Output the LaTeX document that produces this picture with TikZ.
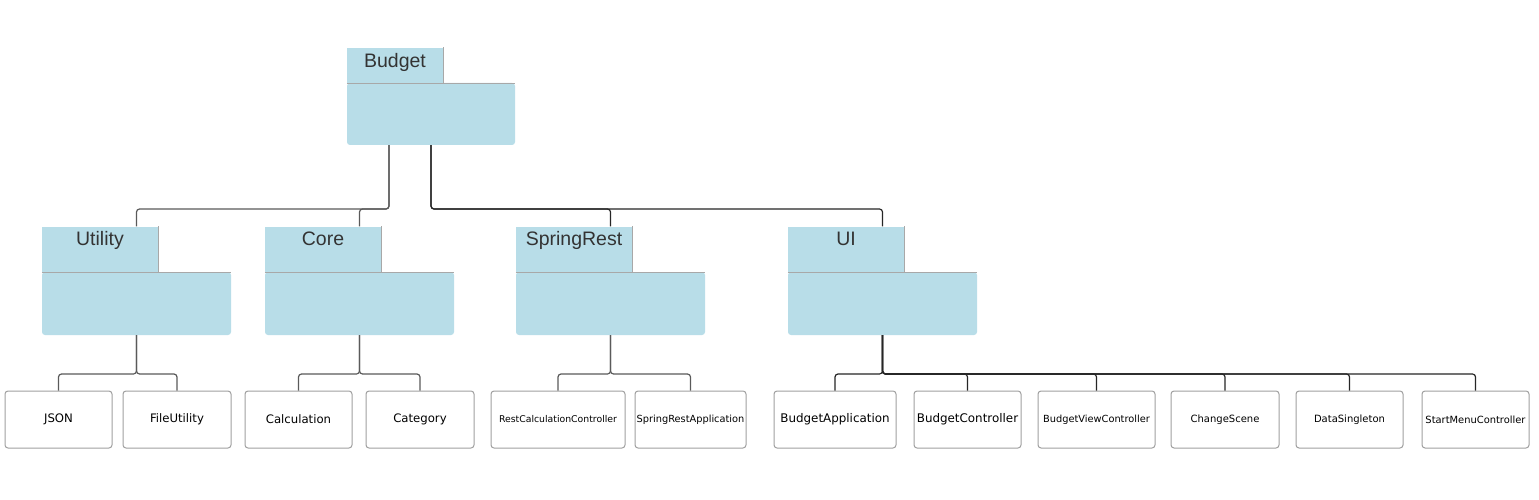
\documentclass[tikz,border=0pt]{standalone}
\usepackage{fontspec}
\setmainfont{DejaVu Sans}
\newfontfamily\pkgfont{Liberation Sans}
\usetikzlibrary{positioning}
\definecolor{pkgblue}{HTML}{B8DDE8}
\definecolor{pkgedge}{HTML}{A8A8A8}
\definecolor{leafedge}{HTML}{A0A0A0}
\definecolor{wire}{HTML}{5A5A5A}
\tikzset{
	pkgbody/.style={fill=pkgblue, rounded corners=3pt, minimum width=189pt, minimum height=63pt, inner sep=0pt},
	pkgtab/.style={fill=pkgblue, minimum width=116pt, minimum height=45pt, inner sep=0pt, anchor=south west},
	pkglabel/.style={font=\pkgfont\fontsize{19.5}{19.5}\selectfont, text=black!80, inner sep=0pt, anchor=base},
	leaf/.style={draw=leafedge, line width=1pt, rounded corners=3pt, minimum height=57pt, inner sep=0pt},
	link/.style={draw=wire, line width=1.2pt, rounded corners=3pt},
}
\begin{document}
\begin{tikzpicture}[x=1pt, y=-1pt]
			\useasboundingbox[fill=white] (0,0) rectangle (1539,500);
			\coordinate (topbus) at (0,209);
			\coordinate (leafbus) at (0,374);
			% root package
			\node[pkgbody, minimum width=168pt, minimum height=62pt] (budget) at (431,114) {};
			\node[pkgtab, minimum width=96pt, minimum height=35pt] (budgettab) at (budget.north west) {};
			\draw[pkgedge] (budgettab.north east) -- (budgettab.south east);
			\draw[pkgedge] (budget.north west) -- (budget.north east);
			\node[pkglabel] (budgetlabel) at ([yshift=-20pt]budgettab.north) {Budget};
			% sub packages
			\foreach \n/\t/\x in {utility/Utility/136.5, core/Core/359.5, springrest/SpringRest/610.5, ui/UI/882.5} {
				\node[pkgbody] (\n) at (\x,303.5) {};
				\node[pkgtab] (\n tab) at (\n.north west) {};
				\draw[pkgedge] (\n tab.north east) -- (\n tab.south east);
				\draw[pkgedge] (\n.north west) -- (\n.north east);
				\node[pkglabel] (\n label) at ([yshift=-19pt]\n tab.north) {\t};
			}
			% classes
			\foreach \n/\t/\x/\w/\s in {json/JSON/58.5/107/11.7, fileutility/FileUtility/177/108/11.7,
					calculation/Calculation/298.5/107/11.7, category/Category/420/108/11.7,
					restcalc/RestCalculationController/558/134/9.3, springapp/SpringRestApplication/690.5/111/9.8,
					budgetapp/BudgetApplication/835/122/11.9, budgetctrl/BudgetController/967.5/107/11.9,
					budgetview/BudgetViewController/1096.5/117/9.8, changescene/ChangeScene/1225/108/10,
					datasingleton/DataSingleton/1349.5/107/10, startmenu/StartMenuController/1475.5/107/9.9} {
				\node[leaf, minimum width=\w pt, font=\fontsize{\s}{\s}\selectfont] (\n) at (\x,419.5) {\t};
			}
			% links
			\coordinate (budgetleft) at ([xshift=-42pt]budget.south);
			\foreach \p in {utility,core}
				\draw[link] (budgetleft) |- (\p |- topbus) -- (\p tab.north -| \p);
			\foreach \p in {springrest,ui}
				\draw[link, draw=black!85] (budget.south) |- (\p |- topbus) -- (\p tab.north -| \p);
			\foreach \p/\c in {utility/json, utility/fileutility, core/calculation, core/category,
					springrest/restcalc, springrest/springapp}
				\draw[link] (\p.south) |- (\c |- leafbus) -- (\c.north);
			\foreach \c in {budgetapp,budgetctrl,budgetview,changescene,datasingleton,startmenu}
				\draw[link, draw=black!85] (ui.south) |- (\c |- leafbus) -- (\c.north);
		\end{tikzpicture}
\end{document}
